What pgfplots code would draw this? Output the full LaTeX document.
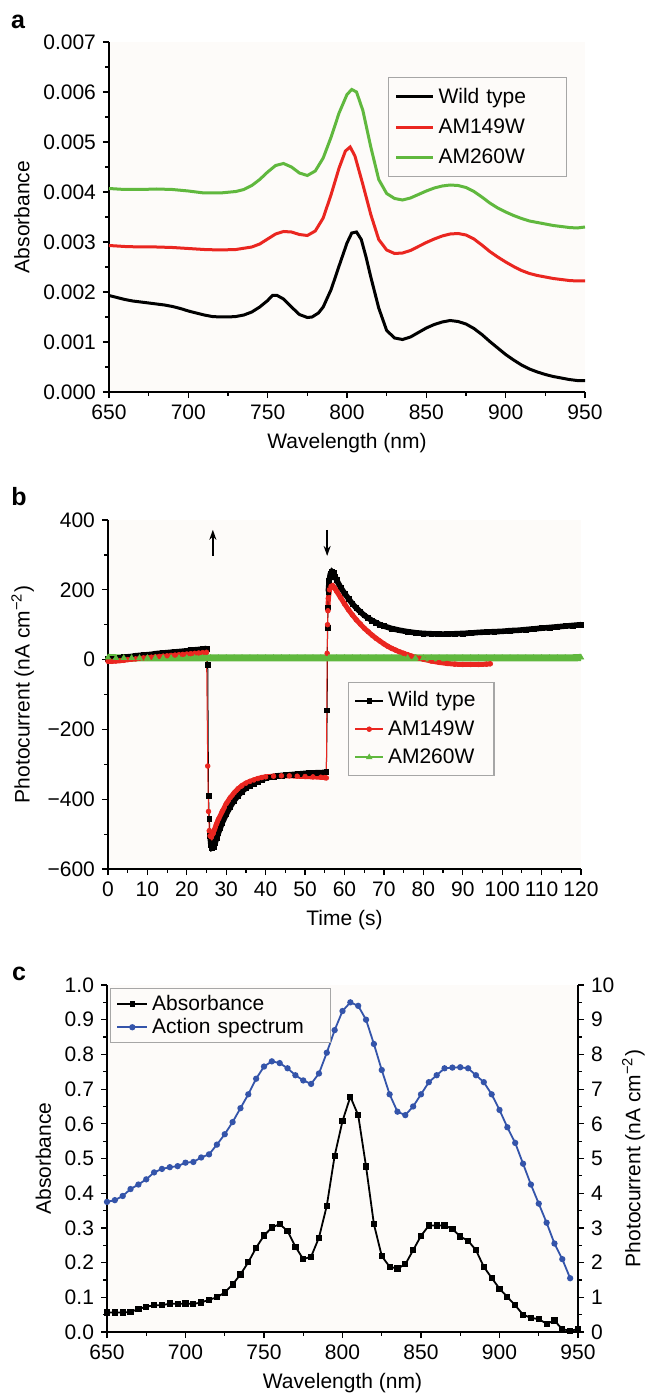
\documentclass[border=0pt]{standalone}
\usepackage{fontspec}
\setmainfont{Liberation Sans}
\usepackage{pgfplots}
\usepackage{pgfplotstable}
\pgfplotsset{compat=1.18}
\usetikzlibrary{arrows.meta}
\definecolor{cred}{RGB}{234,38,32}
\definecolor{cgreen}{RGB}{96,184,62}
\definecolor{cblue}{RGB}{52,84,170}
\definecolor{bgc}{RGB}{253,251,249}
\newcommand{\fs}{\fontsize{10.5}{12.6}\selectfont}
\pgfplotsset{
  common/.style={
    scale only axis,
    /pgf/number format/assume math mode=true,
    tick label style={font=\fs},
    label style={font=\fs},
    tick align=outside,
    major tick length=3pt,
    minor tick length=1.8pt,
    tick style={black, line width=0.6pt},
    axis line style={line width=0.6pt,-},
    axis background/.style={fill=bgc},
    legend style={draw=gray!70, line width=0.6pt, fill=bgc, font=\fs, legend cell align=left},
  }
}
\pgfplotstableread{
t v
0 2
1 3
2 4
3 5
4 7
5 8
6 9
7 11
8 12
9 13
10 14
11 15
12 17
13 18
14 19
15 20
16 21
17 22
18 23
19 24
20 25
21 27
22 28
23 29
24 30
25 32
25.3 -15
25.5 -390
25.7 -455
25.9 -505
26.1 -530
26.4 -540
26.8 -538
27.2 -525
27.6 -510
28 -497
28.5 -482
29 -467
30 -443
31 -422
32 -404
33 -390
34 -378
35 -368
36 -361
37 -355
38 -349
39 -344
40 -340
41 -337
42 -335
43 -333
44 -332
45 -331
46 -330
47 -329
48 -328
49 -327
50 -326
51 -325
52 -325
53 -324
54 -324
55 -323
55.4 -322
55.6 -145
55.7 92
55.8 150
55.9 195
56.1 225
56.4 245
56.8 252
57.2 248
57.6 238
58 228
59 207
60 190
61 175
62 160
63 148
64 137
65 127
66 119
67 112
68 106
69 100
70 96
72 89
74 84
76 80
78 77
80 75
82 74
84 73
86 73
88 74
90 75
92 76
94 78
96 79
98 80
100 81
102 83
104 84
106 86
108 88
110 90
112 92
114 94
116 96
118 98
120 100
}\wildb
\pgfplotstableread{
t v
0 -5
1 -5
2 -4
3 -3
4 -2
5 0
6 1
7 2
8 4
9 5
10 6
11 7
12 8
13 9
14 10
15 11
16 12
17 13
18 14
19 15
20 16
21 17
22 18
23 19
24 20
25 21
25.3 -305
25.5 -435
25.7 -490
25.9 -505
26.2 -508
26.6 -500
27 -488
27.5 -472
28 -458
29 -435
30 -413
31 -396
32 -382
33 -370
34 -361
35 -354
36 -349
37 -345
38 -341
39 -338
40 -336
42 -334
44 -333
46 -333
48 -334
50 -335
52 -336
54 -337
55 -338
55.4 -339
55.6 18
55.7 100
55.8 140
55.9 175
56.2 200
56.6 210
57 212
57.5 205
58 196
59 178
60 160
61 143
62 128
63 114
64 102
65 90
66 80
67 70
68 61
69 53
70 45
71 38
72 32
73 27
74 22
75 18
76 14
77 10
78 7
79 4
80 1
82 -4
84 -8
86 -11
88 -13
90 -14
92 -14
94 -14
96 -13
97 -12
}\redb
\begin{document}
\begin{tikzpicture}
\path[use as bounding box] (0pt,0pt) rectangle (324pt,-697.5pt);
\node[font=\bfseries\fontsize{12.5}{14}\selectfont] at (9pt,-11pt) {a};
\node[font=\bfseries\fontsize{12.5}{14}\selectfont] at (9.5pt,-248.5pt) {b};
\node[font=\bfseries\fontsize{12.5}{14}\selectfont] at (9.5pt,-487pt) {c};

% ---------------- panel a
\begin{axis}[common, at={(54.5pt,-196pt)}, anchor=south west,
  width=238pt, height=175pt,
  axis x line*=bottom, axis y line*=left,
  xmin=650, xmax=950, ymin=0, ymax=0.007,
  xtick={650,700,...,950}, minor x tick num=1,
  ytick={0,0.001,0.002,0.003,0.004,0.005,0.006,0.007}, minor y tick num=1,
  scaled y ticks=false,
  yticklabels={0.000,0.001,0.002,0.003,0.004,0.005,0.006,0.007},
  xlabel={Wavelength (nm)}, ylabel={Absorbance},
  legend style={at={(0.586,0.9)}, anchor=north west, nodes={text width=59pt, inner ysep=3.1pt}},
  legend image code/.code={\draw[#1] (0pt,0pt) -- (18.5pt,0pt);},
]
\addplot[black, line width=1.5pt] table {
650 0.00193
655 0.00189
660 0.00185
665 0.00182
670 0.00180
675 0.00178
680 0.00176
685 0.00174
690 0.00171
695 0.00167
700 0.00162
705 0.00158
710 0.00154
715 0.00151
720 0.00150
725 0.00150
730 0.00151
735 0.00154
740 0.00160
745 0.00170
750 0.00183
753 0.00193
756 0.00193
760 0.00186
765 0.00170
770 0.00155
775 0.00149
778 0.00150
782 0.00158
785 0.00170
790 0.00205
795 0.00252
800 0.00298
803 0.00318
806 0.00320
809 0.00305
812 0.00270
815 0.00230
820 0.00168
825 0.00123
830 0.00108
835 0.00105
840 0.00110
845 0.00119
850 0.00128
855 0.00135
860 0.00140
865 0.00143
870 0.00141
875 0.00136
880 0.00127
885 0.00115
890 0.00101
895 0.00088
900 0.00075
905 0.00064
910 0.00054
915 0.00046
920 0.00040
925 0.00035
930 0.00031
935 0.00028
940 0.00025
945 0.00023
950 0.00023
};
\addlegendentry{Wild type}
\addplot[cred, line width=1.5pt] table {
650 0.00293
660 0.00291
670 0.00290
680 0.00290
690 0.00289
700 0.00287
710 0.00285
720 0.00284
730 0.00285
740 0.00290
745 0.00296
750 0.00306
755 0.00316
760 0.00321
765 0.00320
770 0.00315
775 0.00313
780 0.00322
785 0.00348
790 0.00395
795 0.00448
799 0.00482
802 0.00490
805 0.00472
810 0.00415
815 0.00355
820 0.00305
825 0.00284
830 0.00277
835 0.00278
840 0.00283
845 0.00291
850 0.00299
855 0.00306
860 0.00312
865 0.00316
870 0.00317
875 0.00314
880 0.00306
885 0.00294
890 0.00281
895 0.00270
900 0.00260
905 0.00251
910 0.00243
915 0.00237
920 0.00233
925 0.00230
930 0.00227
935 0.00225
940 0.00223
945 0.00222
950 0.00222
};
\addlegendentry{AM149W}
\addplot[cgreen, line width=1.5pt] table {
650 0.00407
660 0.00405
670 0.00405
680 0.00406
690 0.00405
700 0.00402
710 0.00398
720 0.00398
730 0.00401
735 0.00405
740 0.00413
745 0.00425
750 0.00440
755 0.00453
760 0.00457
765 0.00450
770 0.00438
775 0.00433
780 0.00442
785 0.00468
790 0.00510
795 0.00558
800 0.00595
803 0.00605
806 0.00600
810 0.00563
815 0.00490
820 0.00425
825 0.00397
830 0.00387
835 0.00384
840 0.00388
845 0.00395
850 0.00402
855 0.00408
860 0.00412
865 0.00414
870 0.00413
875 0.00409
880 0.00401
885 0.00390
890 0.00378
895 0.00368
900 0.00360
905 0.00353
910 0.00347
915 0.00342
920 0.00339
925 0.00336
930 0.00333
935 0.00331
940 0.00329
945 0.00328
950 0.00330
};
\addlegendentry{AM260W}
\end{axis}

% ---------------- panel b
\begin{axis}[common, at={(54pt,-434.5pt)}, anchor=south west,
  width=236.5pt, height=174.5pt,
  axis x line*=bottom, axis y line*=left,
  xmin=0, xmax=120, ymin=-600, ymax=400,
  xtick={0,10,...,120}, minor x tick num=1,
  ytick={-600,-400,-200,0,200,400}, minor y tick num=1,
  yticklabels={−600,−400,−200,0,200,400},
  xlabel={Time (s)}, ylabel={Photocurrent (nA cm\textsuperscript{−2})},
  unbounded coords=jump,
  legend style={at={(0.507,0.536)}, anchor=north west, nodes={text width=48pt, inner ysep=2.6pt}},
  legend image code/.code={\draw[#1,line width=0.8pt] (0pt,0pt) -- (14pt,0pt); \draw[#1,only marks] plot coordinates {(7pt,0pt)};},
]
% thick bands (continuous parts only)
\addplot[black, line width=2.8pt, forget plot,
  x filter/.expression={or(and(x>25.1,x<25.8),and(x>55.5,x<55.85)) ? nan : x}] table[x=t,y=v] {\wildb};
\addplot[cred, line width=2.5pt, forget plot,
  x filter/.expression={or(and(x>25.1,x<25.6),and(x>55.5,x<55.75)) ? nan : x}] table[x=t,y=v] {\redb};
% points with thin connecting line
\addplot[black, line width=0.5pt, mark=square*, mark size=1.2pt, mark options={line width=0.3pt}] table[x=t,y=v] {\wildb};
\addlegendentry{Wild type}
\addplot[cred, line width=0.5pt, mark=*, mark size=1.2pt, mark options={line width=0.3pt}] table[x=t,y=v] {\redb};
\addlegendentry{AM149W}
\addplot[cgreen, line width=3.6pt, mark=triangle*, mark size=1.5pt, mark options={line width=0.4pt}] table {
0 6
2 5
4 5
6 5
8 5
10 5
12 5
14 5
16 5
18 5
20 5
22 5
24 5
26 5
28 5
30 5
32 5
34 5
36 5
38 5
40 5
42 5
44 5
46 5
48 5
50 5
52 5
54 5
56 5
58 5
60 5
62 5
64 5
66 5
68 5
70 5
72 5
74 5
76 5
78 5
80 5
82 5
84 5
86 5
88 5
90 5
92 5
94 5
96 5
98 5
100 5
102 5
104 5
106 5
108 5
110 5
112 5
114 5
116 5
118 5
120 6
};
\addlegendentry{AM260W}
\draw[line width=0.9pt, -{Stealth[length=5pt,width=3.5pt]}] (axis cs:26.6,297) -- (axis cs:26.6,372);
\draw[line width=0.9pt, -{Stealth[length=5pt,width=3.5pt]}] (axis cs:55.6,372) -- (axis cs:55.6,297);
\end{axis}

% ---------------- panel c
\begin{axis}[common, at={(53.5pt,-666pt)}, anchor=south west,
  width=235.5pt, height=173.5pt,
  axis x line*=bottom, axis y line*=left,
  xmin=650, xmax=950, ymin=0, ymax=1,
  xtick={650,700,...,950}, minor x tick num=1,
  ytick={0,0.1,0.2,0.3,0.4,0.5,0.6,0.7,0.8,0.9,1.0}, minor y tick num=1,
  yticklabels={0.0,0.1,0.2,0.3,0.4,0.5,0.6,0.7,0.8,0.9,1.0},
  xlabel={Wavelength (nm)}, ylabel={Absorbance},
]
\addplot[black, line width=0.9pt, mark=square*, mark size=1.1pt] table {
650 0.056
655 0.056
660 0.056
665 0.058
670 0.066
675 0.073
680 0.077
685 0.077
690 0.082
695 0.081
700 0.082
705 0.081
710 0.085
715 0.093
720 0.100
725 0.114
730 0.137
735 0.166
740 0.201
745 0.243
750 0.278
755 0.301
760 0.311
765 0.291
770 0.246
775 0.210
780 0.217
785 0.272
790 0.364
795 0.508
800 0.608
805 0.678
810 0.625
815 0.477
820 0.311
825 0.219
830 0.188
835 0.183
840 0.195
845 0.236
850 0.277
855 0.307
860 0.307
865 0.307
870 0.297
875 0.275
880 0.263
885 0.236
890 0.188
895 0.156
900 0.125
905 0.101
910 0.077
915 0.050
920 0.041
925 0.037
930 0.024
935 0.033
940 0.008
945 0.004
950 0.008
};
\end{axis}
\begin{axis}[common, at={(53.5pt,-666pt)}, anchor=south west,
  width=235.5pt, height=173.5pt,
  axis x line=none, axis y line*=right,
  axis background/.style={},
  xmin=650, xmax=950, ymin=0, ymax=10,
  ytick={0,1,...,10}, minor y tick num=1,
  ylabel={Photocurrent (nA cm\textsuperscript{−2})},
  ylabel shift=-3pt,
  legend style={at={(0.006,0.991)}, anchor=north west, nodes={text width=84pt, inner ysep=1.2pt}},
  legend image code/.code={\draw[#1,line width=0.9pt] (0pt,0pt) -- (15pt,0pt); \draw[#1,only marks] plot coordinates {(7.5pt,0pt)};},
]
\addlegendimage{black, mark=square*, mark size=1.1pt}
\addlegendentry{Absorbance}
\addplot[cblue, line width=0.9pt, mark=*, mark size=1.1pt] table {
650 3.75
655 3.80
660 3.92
665 4.12
670 4.25
675 4.40
680 4.60
685 4.70
690 4.75
695 4.78
700 4.88
705 4.90
710 5.03
715 5.12
720 5.40
725 5.70
730 6.05
735 6.45
740 6.85
745 7.30
750 7.65
755 7.80
760 7.75
765 7.60
770 7.40
775 7.25
780 7.15
785 7.45
790 8.05
795 8.70
800 9.25
805 9.50
810 9.40
815 9.00
820 8.30
825 7.55
830 6.85
835 6.35
840 6.25
845 6.50
850 6.85
855 7.20
860 7.40
865 7.60
870 7.62
875 7.63
880 7.60
885 7.40
890 7.20
895 6.85
900 6.40
905 5.90
910 5.45
915 4.85
920 4.25
925 3.70
930 3.15
935 2.55
940 2.10
945 1.55
};
\addlegendentry{Action spectrum}
\end{axis}
\end{tikzpicture}
\end{document}
